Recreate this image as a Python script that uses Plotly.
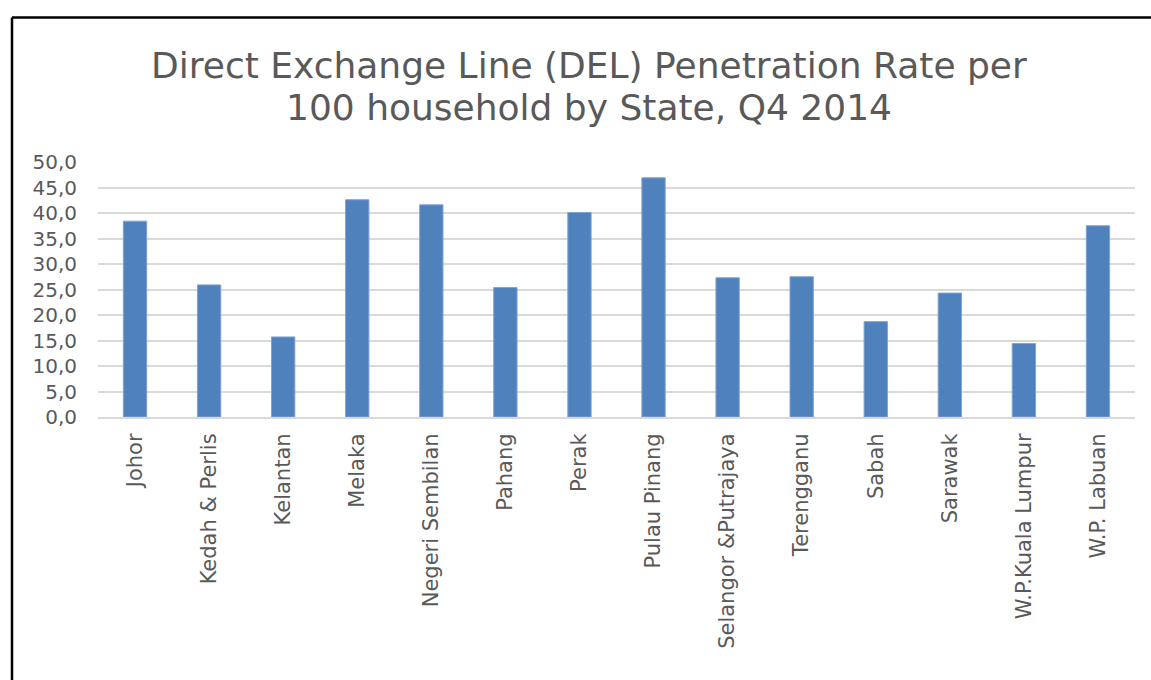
import plotly.graph_objects as go

states = ["Johor", "Kedah & Perlis", "Kelantan", "Melaka", "Negeri Sembilan", "Pahang",
          "Perak", "Pulau Pinang", "Selangor &Putrajaya", "Terengganu", "Sabah",
          "Sarawak", "W.P.Kuala Lumpur", "W.P. Labuan"]
rates = [38.4, 25.9, 15.7, 42.6, 41.6, 25.4, 40.1, 46.9, 27.3, 27.5, 18.7, 24.3, 14.4, 37.5]
y_ticks = [0, 5, 10, 15, 20, 25, 30, 35, 40, 45, 50]

title_lines = ["Direct Exchange Line (DEL) Penetration Rate per",
               "100 household by State, Q4 2014"]

FONT = "DejaVu Sans"
GREY = "#595959"

fig = go.Figure()
fig.add_trace(go.Bar(
    x=states, y=rates,
    marker=dict(color="#4f81bd", line=dict(color="#7fa3d1", width=1)),
    hoverinfo="x+y",
))

W, H = 1151, 680
L, R, T, B = 98, 16, 162, 263
pw = W - L - R
ph = H - T - B

def px_to_paper_x(px):
    return (px - L) / pw

def px_to_paper_y(py):
    return (H - B - py) / ph

annotations = []
for text, cy in zip(title_lines, [65, 107]):
    annotations.append(dict(text=text, xref="paper", yref="paper",
                            x=px_to_paper_x(589), y=px_to_paper_y(cy),
                            xanchor="center", yanchor="middle", showarrow=False,
                            font=dict(family=FONT, size=36, color=GREY)))

frame = dict(color="black", width=2.5)
fig.update_layout(
    width=W, height=H,
    margin=dict(l=L, r=R, t=T, b=B, pad=0),
    paper_bgcolor="white", plot_bgcolor="white",
    separators=", ",
    bargap=0.685,
    showlegend=False,
    font=dict(family=FONT, color=GREY),
    annotations=annotations,
    xaxis=dict(tickangle=-90, tickfont=dict(family=FONT, size=21, color=GREY),
               showgrid=False, showline=True, linecolor="#d9d9d9", linewidth=2,
               ticks="", ticklabelstandoff=6),
    yaxis=dict(range=[0, 50], tickvals=y_ticks, tickformat=".1f",
               tickfont=dict(family=FONT, size=20, color=GREY),
               showgrid=True, gridcolor="#d9d9d9", gridwidth=1.5,
               zeroline=False, showline=False, ticks="", ticklabelstandoff=20),
    shapes=[
        dict(type="line", xref="paper", yref="paper",
             x0=px_to_paper_x(12), x1=px_to_paper_x(12),
             y0=px_to_paper_y(17.5), y1=px_to_paper_y(700), line=frame),
        dict(type="line", xref="paper", yref="paper",
             x0=px_to_paper_x(12), x1=px_to_paper_x(1170),
             y0=px_to_paper_y(17.5), y1=px_to_paper_y(17.5), line=frame),
    ],
)

fig.write_html("out.html", config={"displayModeBar": False},
               post_script="document.body.style.margin='0';document.body.style.overflow='hidden';")
